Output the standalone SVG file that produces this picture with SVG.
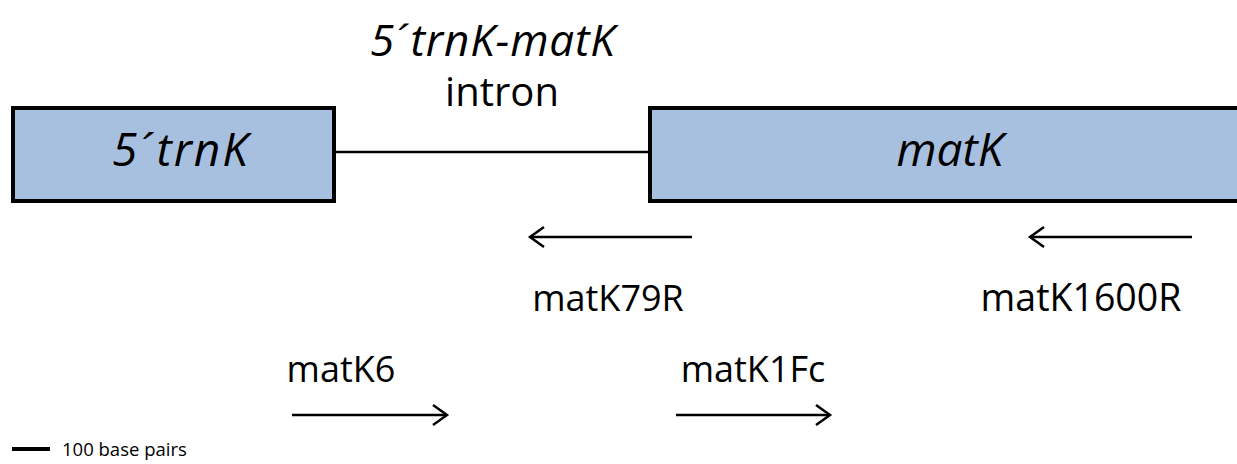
<svg xmlns="http://www.w3.org/2000/svg" width="1237" height="464" viewBox="0 0 1237 464">
<style>
.box{fill:#a8c0df;stroke:#000;stroke-width:4}
.t{font-family:"Open Sans","Noto Sans",sans-serif;fill:#000}
.i{font-style:italic}
.ac{font-family:"Liberation Sans",sans-serif}
.ln{stroke:#000;stroke-width:2.5;fill:none}
</style>
<defs>
<marker id="ah" markerUnits="userSpaceOnUse" markerWidth="20" markerHeight="24" refX="16" refY="12" orient="auto">
<path d="M2,2 L16,12 L2,22" fill="none" stroke="#000" stroke-width="2.5"/>
</marker>
</defs>
<rect width="1237" height="464" fill="#fff"/>
<g id="connectors">
<line class="ln" x1="336" y1="152" x2="648" y2="152"/>
<line class="ln" x1="692" y1="237" x2="530" y2="237" marker-end="url(#ah)"/>
<line class="ln" x1="1192" y1="237" x2="1030" y2="237" marker-end="url(#ah)"/>
<line class="ln" x1="292" y1="415" x2="447" y2="415" marker-end="url(#ah)"/>
<line class="ln" x1="676" y1="415" x2="830" y2="415" marker-end="url(#ah)"/>
</g>
<g id="trnK">
<rect class="box" x="13" y="108" width="321" height="93"/>
<text class="t i" x="112" y="166" font-size="46" textLength="136" lengthAdjust="spacing">5<tspan class="ac">´</tspan>trnK</text>
</g>
<g id="matK">
<rect class="box" x="650" y="108" width="600" height="93"/>
<text class="t i" x="950" y="166" font-size="46" text-anchor="middle">matK</text>
</g>
<g id="intron-label">
<text class="t i" x="370" y="56" font-size="44" textLength="245" lengthAdjust="spacing">5<tspan class="ac">´</tspan>trnK-matK</text>
<text class="t" x="502" y="106" font-size="40" text-anchor="middle">intron</text>
</g>
<g id="matK79R">
<text class="t" x="608" y="311" font-size="36" text-anchor="middle">matK79R</text>
</g>
<g id="matK1600R">
<text class="t" x="1081" y="311" font-size="37.5" text-anchor="middle">matK1600R</text>
</g>
<g id="matK6">
<text class="t" x="341" y="382" font-size="36" text-anchor="middle">matK6</text>
</g>
<g id="matK1Fc">
<text class="t" x="753" y="382" font-size="36" text-anchor="middle">matK1Fc</text>
</g>
<g id="scale">
<line x1="12" y1="449" x2="50" y2="449" stroke="#000" stroke-width="4"/>
<text class="t" x="62" y="456" font-size="18.5">100 base pairs</text>
</g>
</svg>
